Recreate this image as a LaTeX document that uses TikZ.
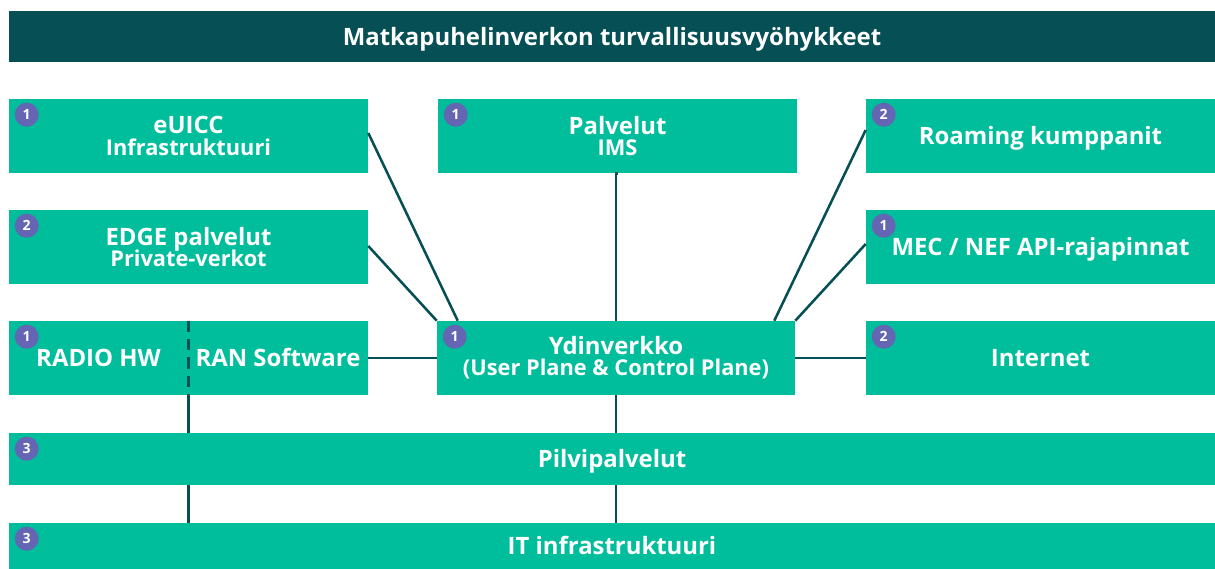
\documentclass[tikz,border=0pt]{standalone}
\usepackage{fontspec}
\setmainfont{Open Sans}
\usetikzlibrary{positioning}
\definecolor{tealdark}{HTML}{054F55}
\definecolor{boxgreen}{HTML}{00BE9B}
\definecolor{badgeviolet}{HTML}{6466B4}
\newcommand{\pxu}{0.025cm}
\newcommand{\subline}[1]{{\fontsize{15.5}{17}\selectfont #1}}
\begin{document}
\begin{tikzpicture}[x=0.025cm, y=-0.025cm,
    box/.style={fill=boxgreen, text=white, font=\bfseries\fontsize{17}{20}\selectfont,
        align=center, inner sep=0pt, minimum height=74*\pxu},
    oneline/.style={text height=12pt, text depth=0pt},
    headbox/.style={fill=tealdark, text=white, font=\bfseries\fontsize{17}{20}\selectfont,
        inner sep=0pt, minimum width=1206*\pxu, minimum height=51*\pxu, text height=12pt, text depth=0pt},
    badge/.style={circle, fill=badgeviolet, text=white, inner sep=0pt,
        minimum size=24*\pxu, font=\bfseries\fontsize{10}{12}\selectfont},
    link/.style={draw=tealdark, line width=1.8pt}]
    \useasboundingbox (0,0) rectangle (1215,569);

    \node [headbox] (head) at (612,37) {Matkapuhelinverkon turvallisuusvyöhykkeet};

    \node [box, minimum width=359*\pxu] (euicc) at (188.5,136) {eUICC\\[-5pt]\subline{Infrastruktuuri}};
    \node [box, minimum width=359*\pxu] (palvelut) at (617.5,136) {Palvelut\\[-5pt]\subline{IMS}};
    \node [box, oneline, minimum width=349*\pxu] (roaming) at (1040.5,136) {Roaming kumppanit};

    \node [box, minimum width=359*\pxu] (edge) at (188.5,247) {EDGE palvelut\\[-5pt]\subline{Private-verkot}};
    \node [box, oneline, minimum width=349*\pxu] (mec) at (1040.5,247) {MEC / NEF API-rajapinnat};

    \node [box, oneline, minimum width=179*\pxu] (radio) at (98.5,358) {RADIO HW};
    \node [box, oneline, minimum width=180*\pxu] (ran) at (278,358) {RAN Software};
    \node [box, minimum width=358*\pxu] (ydin) at (616,358) {Ydinverkko\\[-5pt]\subline{(User Plane \& Control Plane)}};
    \node [box, oneline, minimum width=349*\pxu] (internet) at (1040.5,358) {Internet};

    \node [box, oneline, minimum width=1206*\pxu, minimum height=52*\pxu] (pilvi) at (612,459) {Pilvipalvelut};
    \node [box, oneline, minimum width=1206*\pxu, minimum height=46*\pxu] (itinfra) at (612,546) {IT infrastruktuuri};

    \node [badge] at ([shift={(18,16)}]euicc.north west) {1};
    \node [badge] at ([shift={(18,16)}]palvelut.north west) {1};
    \node [badge] at ([shift={(18,16)}]roaming.north west) {2};
    \node [badge] at ([shift={(18,16)}]edge.north west) {2};
    \node [badge] at ([shift={(18,16)}]mec.north west) {1};
    \node [badge] at ([shift={(18,16)}]radio.north west) {1};
    \node [badge] at ([shift={(18,16)}]ydin.north west) {1};
    \node [badge] at ([shift={(18,16)}]internet.north west) {2};
    \node [badge] at ([shift={(18,16)}]pilvi.north west) {3};
    \node [badge] at ([shift={(18,16)}]itinfra.north west) {3};

    \draw [link] ([yshift=3*\pxu]euicc.east) -- ([xshift=21*\pxu]ydin.north west);
    \draw [link] ([yshift=1*\pxu]edge.east) -- (ydin.north west);
    \draw [link] (palvelut.south) -- (ydin.south |- palvelut.south) -- (ydin.north);
    \draw [link] ([yshift=6*\pxu]roaming.west) -- ([xshift=-21*\pxu]ydin.north east);
    \draw [link] ([yshift=3*\pxu]mec.west) -- (ydin.north east);
    \draw [link] (ran.east) -- (ydin.west);
    \draw [link] (ydin.east) -- (internet.west);
    \draw [link] (ydin.south) -- (ydin.south |- pilvi.north);
    \draw [link] (pilvi.south -| ydin.south) -- (itinfra.north -| ydin.south);

    \draw [link, dashed, dash pattern=on 8pt off 5pt] (radio.north east) -- (radio.south east);
    \draw [link] (radio.south east) -- (radio.south east |- pilvi.north);
    \draw [link] (pilvi.south -| radio.east) -- (itinfra.north -| radio.east);
\end{tikzpicture}
\end{document}
